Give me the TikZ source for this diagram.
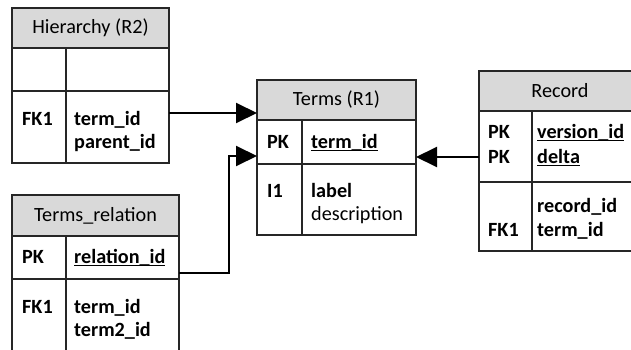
\documentclass[tikz,border=0pt]{standalone}
\usepackage{fontspec}
\setmainfont{Carlito}
\usetikzlibrary{arrows.meta}
\definecolor{hdrgray}{HTML}{D9D9D9}
\definecolor{ln}{HTML}{262626}
\newcommand\myul[1]{\setbox0\hbox{#1}\rlap{\rule[-3.2pt]{\wd0}{1.1pt}}\box0}
\begin{document}
\begin{tikzpicture}[x=1pt,y=-1pt]
\tikzset{
 cell/.style={draw=ln, line width=1.2pt, inner sep=0pt, outer sep=0pt, anchor=north west},
 hdr/.style={cell, fill=hdrgray, font=\fontsize{20.2}{23}\selectfont},
 tbl/.style={inner sep=0pt, outer sep=0pt, anchor=north west},
 txt/.style={anchor=base west, inner sep=0pt, font=\fontsize{20.2}{23}\selectfont\bfseries},
 txtn/.style={anchor=base west, inner sep=0pt, font=\fontsize{20.2}{23}\selectfont},
 conn/.style={line width=2pt, -{Triangle[length=21pt,width=20pt]}},
}
\clip (0,0) rectangle (631,350);
\fill[white] (0,0) rectangle (631,350);

% Hierarchy (R2)
\node[tbl, minimum width=157pt, minimum height=155pt] (hier) at (12,8) {};
\node[hdr, minimum width=157pt, minimum height=40pt] (hierH) at (12,8) {Hierarchy (R2)};
\node[cell, minimum width=54pt, minimum height=43pt] (hierK1) at (12,48) {};
\node[cell, minimum width=103pt, minimum height=43pt] (hierV1) at (66,48) {};
\node[cell, minimum width=54pt, minimum height=72pt] (hierK2) at (12,91) {};
\node[cell, minimum width=103pt, minimum height=72pt] (hierV2) at (66,91) {};
\node[txt] (hfk) at (22,125) {FK1};
\node[txt] (ht1) at (74,125) {term\_id};
\node[txt] (ht2) at (74,148) {parent\_id};

% Terms_relation
\node[tbl, minimum width=167pt, minimum height=165pt] (rel) at (12,195) {};
\node[hdr, minimum width=167pt, minimum height=41pt] (relH) at (12,195) {Terms\_relation};
\node[cell, minimum width=54pt, minimum height=43pt] (relK1) at (12,236) {};
\node[cell, minimum width=113pt, minimum height=43pt] (relV1) at (66,236) {};
\node[cell, minimum width=54pt, minimum height=81pt] (relK2) at (12,279) {};
\node[cell, minimum width=113pt, minimum height=81pt] (relV2) at (66,279) {};
\node[txt] (rpk) at (22,263) {PK};
\node[txt] (rid) at (74,263) {\myul{relation\_id}};
\node[txt] (rfk) at (22,313) {FK1};
\node[txt] (rt1) at (74,313) {term\_id};
\node[txt] (rt2) at (74,336) {term2\_id};

% Terms (R1)
\node[tbl, minimum width=159pt, minimum height=155pt] (terms) at (257,80) {};
\node[hdr, minimum width=159pt, minimum height=40pt] (termsH) at (257,80) {Terms (R1)};
\node[cell, minimum width=45pt, minimum height=44pt] (termsK1) at (257,120) {};
\node[cell, minimum width=114pt, minimum height=44pt] (termsV1) at (302,120) {};
\node[cell, minimum width=45pt, minimum height=71pt] (termsK2) at (257,164) {};
\node[cell, minimum width=114pt, minimum height=71pt] (termsV2) at (302,164) {};
\node[txt] (tpk) at (267,148) {PK};
\node[txt] (tid) at (311,148) {\myul{term\_id}};
\node[txt] (ti1) at (267,197) {I1};
\node[txt] (tlab) at (311,197) {label};
\node[txtn] (tdesc) at (311,220) {description};

% Record
\node[tbl, minimum width=162pt, minimum height=180pt] (rec) at (479,71) {};
\node[hdr, minimum width=162pt, minimum height=40pt] (recH) at (479,71) {Record};
\node[cell, minimum width=53pt, minimum height=71pt] (recK1) at (479,111) {};
\node[cell, minimum width=109pt, minimum height=71pt] (recV1) at (532,111) {};
\node[cell, minimum width=53pt, minimum height=69pt] (recK2) at (479,182) {};
\node[cell, minimum width=109pt, minimum height=69pt] (recV2) at (532,182) {};
\node[txt] (cpk1) at (488,138) {PK};
\node[txt] (cver) at (537,138) {\myul{version\_id}};
\node[txt] (cpk2) at (488,163) {PK};
\node[txt] (cdel) at (537,163) {\myul{delta}};
\node[txt] (crid) at (537,212) {record\_id};
\node[txt] (cfk) at (488,236) {FK1};
\node[txt] (ctid) at (537,236) {term\_id};

% connectors
\draw[conn] (hier.east |- 0,113) -- (terms.west |- 0,113);
\draw[conn] (rel.east |- 0,273) -| (229,156) -- (terms.west |- 0,156);
\draw[conn] (rec.west |- 0,157) -- (terms.east |- 0,157);
\end{tikzpicture}
\end{document}
